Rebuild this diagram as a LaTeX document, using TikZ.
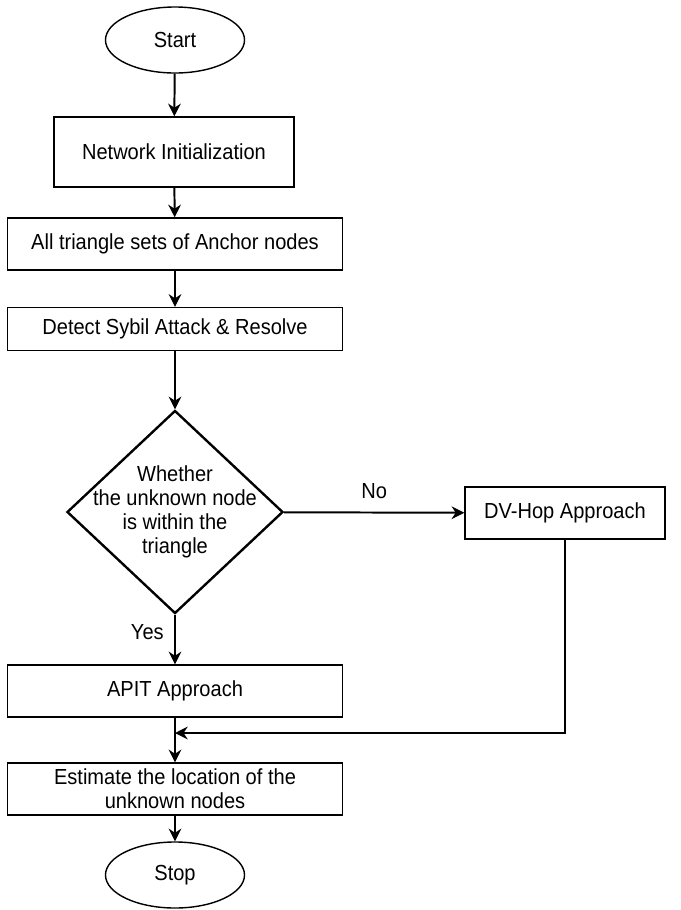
\documentclass[tikz,border=0pt]{standalone}
\usepackage{fontspec}
\setmainfont{Liberation Sans}[FakeStretch=0.92]
\usetikzlibrary{shapes.geometric,arrows.meta}

\begin{document}
\begin{tikzpicture}[x=0.025cm,y=-0.025cm,
    font=\fontsize{15.5}{17}\selectfont,
    box/.style={draw,line width=1pt,inner sep=0pt,align=center,minimum width=8.375cm,minimum height=1.3cm},
    term/.style={draw,ellipse,line width=1pt,inner sep=0pt,minimum width=3.475cm,minimum height=1.65cm},
    test/.style={draw,diamond,line width=1.7pt,inner sep=0pt,minimum width=5.4cm,minimum height=5.075cm},
    arr/.style={line width=1.4pt,-{Stealth[length=9pt,width=9pt]}}]
    \useasboundingbox (0,0) rectangle (680,910);
    % main column
    \node[term] (start) at (175,40) {Start};
    \node[box,minimum width=6cm,minimum height=1.75cm] (init) at (174,152) {Network Initialization};
    \node[box] (tri) at (175,244) {All triangle sets of Anchor nodes};
    \node[box,minimum height=1.075cm] (sybil) at (175,329) {Detect Sybil Attack \& Resolve};
    \node[test,label={[align=center]center:{Whether\\the unknown node\\is within the\\triangle}}] (inside) at (175,512) {};
    \node[box] (apit) at (175,691) {APIT Approach};
    \node[box] (est) at (175,789) {Estimate the location of the\\unknown nodes};
    \node[term] (stop) at (175,875) {Stop};
    % side branch
    \node[box,minimum width=5cm] (dvhop) at (565,513) {DV-Hop Approach};
    \coordinate (join) at (175,733);
    \draw[arr] (start) -- (init);
    \draw[arr] (init) -- (tri);
    \draw[arr] (tri) -- (sybil);
    \draw[arr] (sybil) -- (inside);
    \draw[arr] (inside) -- node[pos=0.35,left=4pt] (yes) {Yes} (apit);
    \draw[arr] (inside) -- node[above=6pt] (no) {No} (dvhop);
    \draw[arr] (dvhop.south) |- (join);
    \draw[arr] (apit) -- (est);
    \draw[arr] (est) -- (stop);
  \end{tikzpicture}
\end{document}
